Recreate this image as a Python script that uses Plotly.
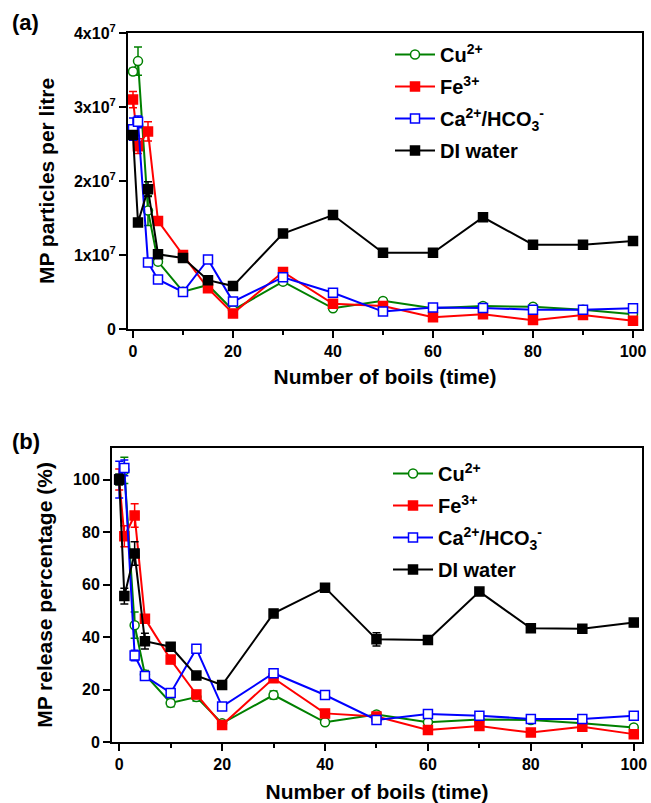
import plotly.graph_objects as go

boils = [0, 1, 3, 5, 10, 15, 20, 30, 40, 50, 60, 70, 80, 90, 100]

# Panel (a): MP particles per litre
cu_a = [34.8e6, 36.2e6, 16.0e6, 9.1e6, 5.05e6, 5.95e6, 2.55e6, 6.4e6, 2.8e6, 3.8e6, 2.8e6, 3.1e6, 3.0e6, 2.6e6, 2.0e6]
fe_a = [31.0e6, 24.7e6, 26.7e6, 14.6e6, 10.0e6, 5.5e6, 2.1e6, 7.7e6, 3.4e6, 3.1e6, 1.6e6, 2.0e6, 1.2e6, 1.9e6, 1.1e6]
ca_a = [27.0e6, 28.0e6, 9.0e6, 6.7e6, 5.0e6, 9.4e6, 3.7e6, 7.0e6, 4.9e6, 2.35e6, 2.9e6, 2.85e6, 2.6e6, 2.6e6, 2.8e6]
di_a = [26.2e6, 14.4e6, 18.9e6, 10.1e6, 9.6e6, 6.6e6, 5.8e6, 12.9e6, 15.4e6, 10.3e6, 10.3e6, 15.1e6, 11.4e6, 11.4e6, 11.9e6]
cu_a_err = [0.4e6, 1.9e6, 2.0e6, 0.4e6, 0.3e6, 0.3e6, 0.3e6, 0.4e6, 0.3e6, 0.3e6, 0.3e6, 0.3e6, 0.3e6, 0.3e6, 0.3e6]
fe_a_err = [1.1e6, 1.0e6, 1.3e6, 0.3e6, 0.3e6, 0.3e6, 0.2e6, 0.3e6, 0.2e6, 0.2e6, 0.2e6, 0.2e6, 0.2e6, 0.2e6, 0.2e6]
ca_a_err = [1.5e6, 0.8e6, 0.4e6, 0.3e6, 0.3e6, 0.5e6, 0.3e6, 0.3e6, 0.3e6, 0.3e6, 0.3e6, 0.3e6, 0.3e6, 0.3e6, 0.3e6]
di_a_err = [0.5e6, 0.5e6, 1.0e6, 0.4e6, 0.3e6, 0.3e6, 0.3e6, 0.3e6, 0.3e6, 0.3e6, 0.3e6, 0.3e6, 0.3e6, 0.3e6, 0.3e6]

# Panel (b): MP release percentage (%)
cu_b = [100, 103.5, 44.5, 25.7, 14.9, 17.1, 7.1, 17.9, 7.5, 10.5, 7.5, 8.6, 8.4, 7.1, 5.5]
fe_b = [100, 78.4, 86.3, 47.0, 31.4, 18.1, 6.5, 24.3, 10.9, 9.7, 4.6, 6.1, 3.6, 5.8, 3.0]
ca_b = [100, 104.4, 33.0, 25.1, 18.7, 35.5, 13.5, 26.2, 17.9, 8.4, 10.7, 10.0, 8.8, 8.8, 10.0]
di_b = [100, 55.6, 71.8, 38.4, 36.3, 25.3, 21.7, 49.0, 58.8, 39.1, 38.9, 57.3, 43.3, 43.1, 45.5]
cu_b_err = [2, 5, 5, 1.5, 1.5, 1.5, 1, 1.5, 1, 1, 1, 1, 1, 1, 1]
fe_b_err = [4, 4, 4.5, 1.5, 1.5, 1.5, 1, 1.5, 1, 1, 1, 1, 1, 1, 1]
ca_b_err = [7, 3, 2, 1.5, 1.5, 1.5, 1, 1.5, 1, 1, 1.5, 1, 1, 1, 1]
di_b_err = [2, 3, 4.5, 3, 1.5, 1, 1, 1, 1, 2.5, 1, 1, 1, 1, 1.5]

names = ["Cu<sup>2+</sup>", "Fe<sup>3+</sup>", "Ca<sup>2+</sup>/HCO<sub>3</sub><sup>-</sup>", "DI water"]
colors = ["#008000", "#FF0000", "#0000FF", "#000000"]
symbols = ["circle", "square", "square", "square"]
fills = ["white", "#FF0000", "white", "#000000"]

x_ticks = [0, 20, 40, 60, 80, 100]
x_minor = [10, 30, 50, 70, 90]
ya_ticks = [0, 1e7, 2e7, 3e7, 4e7]
ya_text = ["0", "1x10<sup>7</sup>", "2x10<sup>7</sup>", "3x10<sup>7</sup>", "4x10<sup>7</sup>"]
yb_ticks = [0, 20, 40, 60, 80, 100]

fig = go.Figure()

series_a = [(cu_a, cu_a_err), (fe_a, fe_a_err), (ca_a, ca_a_err), (di_a, di_a_err)]
series_b = [(cu_b, cu_b_err), (fe_b, fe_b_err), (ca_b, ca_b_err), (di_b, di_b_err)]

for panel, series, xa, ya, leg in [("a", series_a, "x", "y", "legend"), ("b", series_b, "x2", "y2", "legend2")]:
    for i, (vals, err) in enumerate(series):
        fig.add_trace(go.Scatter(
            x=boils, y=vals, name=names[i], mode="lines+markers",
            legendgroup=panel + str(i),
            line=dict(color=colors[i], width=2),
            marker=dict(symbol=symbols[i], size=9, color=fills[i], line=dict(color=colors[i], width=1.5)),
            error_y=dict(type="data", array=err, color=colors[i], thickness=1.5, width=4),
            xaxis=xa, yaxis=ya, legend=leg))

W, H = 651, 803
font = "Liberation Sans, Arial, sans-serif"

def px_x(p):
    return p / W

def px_y(p):
    return 1 - p / H

title_font = dict(family=font, size=21, color="black", weight="bold")
tick_font = dict(family=font, size=16, color="black", weight="bold")

axis_common = dict(showline=True, linecolor="black", linewidth=2, mirror=True,
                   ticks="outside", tickwidth=1.5, ticklen=7, tickcolor="black",
                   showgrid=False, zeroline=False, automargin=False,
                   tickfont=tick_font)
minor_x = dict(tickvals=x_minor, ticklen=4, tickwidth=1.5, tickcolor="black", ticks="outside")

legend_common = dict(xanchor="left", yanchor="top",
                     font=dict(family=font, size=20, color="black", weight="bold"),
                     bgcolor="rgba(0,0,0,0)", tracegroupgap=3, itemwidth=40)

fig.update_layout(
    template="none",
    width=W, height=H,
    margin=dict(l=0, r=0, t=0, b=0),
    plot_bgcolor="white", paper_bgcolor="white",
    font=dict(family=font, color="black"),
    xaxis=dict(domain=[px_x(128), px_x(642)], range=[-1, 101.8], anchor="y",
               tickmode="array", tickvals=x_ticks, minor=minor_x,
               title=dict(text="Number of boils (time)", font=title_font, standoff=10),
               **axis_common),
    yaxis=dict(domain=[px_y(329), px_y(33)], range=[0, 4e7], anchor="x",
               tickmode="array", tickvals=ya_ticks, ticktext=ya_text,
               title=dict(text="MP particles per litre", font=title_font, standoff=14),
               **axis_common),
    xaxis2=dict(domain=[px_x(112), px_x(642)], range=[-1.4, 101.6], anchor="y2",
                tickmode="array", tickvals=x_ticks, minor=minor_x,
                title=dict(text="Number of boils (time)", font=title_font, standoff=12),
                **axis_common),
    yaxis2=dict(domain=[px_y(742), px_y(448)], range=[0, 112], anchor="x2",
                tickmode="array", tickvals=yb_ticks,
                title=dict(text="MP release percentage (%)", font=title_font, standoff=15),
                **axis_common),
    legend=dict(x=px_x(390), y=px_y(35), **legend_common),
    legend2=dict(x=px_x(388), y=px_y(454), **legend_common),
    annotations=[
        dict(text="(a)", x=px_x(10), y=px_y(22), xref="paper", yref="paper",
             xanchor="left", yanchor="middle", showarrow=False,
             font=dict(size=22, family=font, weight="bold")),
        dict(text="(b)", x=px_x(10), y=px_y(441), xref="paper", yref="paper",
             xanchor="left", yanchor="middle", showarrow=False,
             font=dict(size=22, family=font, weight="bold")),
    ],
)

fig.write_html("out.html")
